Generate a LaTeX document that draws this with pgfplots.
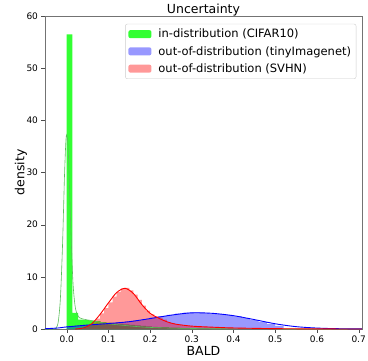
\documentclass[border=0pt]{standalone}
\usepackage{pgfplots}
\pgfplotsset{compat=1.18}
\usepackage{fontspec}
\setmainfont{DejaVu Sans}
\definecolor{lime}{RGB}{0,255,0}
\definecolor{kdegreen}{RGB}{90,190,90}
\begin{document}
\begin{tikzpicture}
\begin{axis}[
  scale only axis, width=317pt, height=313pt,
  xmin=-0.052, xmax=0.708, ymin=0, ymax=60,
  xtick={0,0.1,0.2,0.3,0.4,0.5,0.6,0.7},
  xticklabels={0.0,0.1,0.2,0.3,0.4,0.5,0.6,0.7},
  ytick={0,10,20,30,40,50,60},
  tick align=outside, major tick length=3.5pt,
  tick pos=left,
  ticklabel style={font=\fontsize{9}{10}\selectfont},
  /pgf/number format/assume math mode=true,
  axis line style={black!55},
  tick style={black!70},
  title={Uncertainty},
  title style={at={(axis description cs:0.5,1)}, anchor=base, yshift=-3pt, font=\fontsize{12.5}{14}\selectfont},
  xlabel={BALD}, ylabel={density},
  xlabel style={at={([yshift=-26pt]axis description cs:0.5,0)}, anchor=base, font=\fontsize{12.5}{14}\selectfont},
  ylabel style={at={([xshift=-20.5pt]axis description cs:0,0.5)}, anchor=base, font=\fontsize{12.5}{14}\selectfont},
  legend style={at={(0.982,0.975)}, anchor=north east, font=\fontsize{11.5}{13}\selectfont,
    draw=black!20, rounded corners=2pt, fill=white, fill opacity=0.8, text opacity=1,
    row sep=3pt, inner sep=3pt,
    /tikz/every odd column/.append style={column sep=5pt}},
  legend cell align=left,
  legend image code/.code={\fill[#1] (0pt,-4pt) rectangle (23pt,4pt);},
  clip=true,
]
% green histogram
\addplot[const plot, fill=lime, fill opacity=0.8, draw=none] coordinates {
(0,56.5) (0.0136,3.1) (0.0272,1.8) (0.0408,1.7) (0.0544,1.6) (0.068,1.5) (0.0816,1.3)
(0.0952,1.2) (0.1088,1.1) (0.1224,1.0) (0.136,0.9) (0.15,0.8) (0.163,0.7) (0.177,0.6)
(0.19,0.5) (0.204,0.4) (0.218,0.35) (0.245,0.25) (0.272,0.15) (0.3,0.1) (0.34,0.05) (0.4,0.05)
} \closedcycle;
\addlegendentry{in-distribution (CIFAR10)}
% blue histogram
\addplot[const plot, fill=blue, fill opacity=0.4, draw=none] coordinates {
(0,0.55) (0.02,0.65) (0.04,0.8) (0.06,0.9) (0.08,1.0) (0.10,1.15) (0.12,1.3) (0.14,1.45)
(0.16,1.65) (0.18,1.9) (0.20,2.2) (0.22,2.45) (0.24,2.7) (0.26,2.95) (0.28,3.15) (0.30,3.2)
(0.32,3.1) (0.34,2.95) (0.36,2.85) (0.38,2.65) (0.40,2.4) (0.42,2.1) (0.44,1.7) (0.46,1.3)
(0.48,0.95) (0.50,0.6) (0.52,0.6)
} \closedcycle;
\addlegendentry{out-of-distribution (tinyImagenet)}
% red histogram
\addplot[const plot, fill=red, fill opacity=0.4, draw=none] coordinates {
(0.04,0.3) (0.05,0.6) (0.06,1.2) (0.07,2.0) (0.08,3.0) (0.09,4.0) (0.10,5.1) (0.11,6.2)
(0.12,7.1) (0.13,7.8) (0.14,7.9) (0.15,7.4) (0.16,6.6) (0.17,5.6) (0.18,4.5) (0.19,3.5)
(0.20,2.8) (0.21,2.4) (0.22,2.2) (0.23,1.8) (0.24,1.3) (0.25,1.1) (0.26,0.9) (0.27,0.8)
(0.28,0.7) (0.29,0.6) (0.30,0.5) (0.32,0.4) (0.34,0.35) (0.36,0.3) (0.38,0.25) (0.40,0.2)
(0.42,0.15) (0.44,0.12) (0.46,0.1) (0.48,0.08) (0.50,0.06) (0.52,0.05) (0.54,0.04) (0.56,0.04)
} \closedcycle;
\addlegendentry{out-of-distribution (SVHN)}
% green kde
\addplot[kdegreen, line width=0.6pt, smooth, forget plot] coordinates {
(-0.052,0) (-0.03,0) (-0.025,0.2) (-0.02,1.5) (-0.015,6) (-0.01,16) (-0.005,30) (-0.001,37)
(0.003,35.5) (0.006,29) (0.01,19) (0.015,9) (0.02,4.5) (0.025,2.8) (0.03,2.2) (0.04,1.9)
(0.06,1.6) (0.08,1.3) (0.1,1.0) (0.15,0.6) (0.2,0.3) (0.3,0.1) (0.4,0.03) (0.5,0.01) (0.708,0)
};
% blue kde
\addplot[blue, line width=0.9pt, smooth, forget plot] coordinates {
(-0.052,0.05) (-0.02,0.2) (0,0.4) (0.05,0.75) (0.1,1.05) (0.15,1.4) (0.2,2.0) (0.25,2.65)
(0.3,3.1) (0.35,3.0) (0.4,2.55) (0.45,1.8) (0.5,1.0) (0.55,0.45) (0.6,0.18) (0.65,0.06) (0.708,0.02)
};
% red kde
\addplot[red, line width=0.9pt, smooth, forget plot] coordinates {
(0.02,0) (0.04,0.2) (0.06,1.0) (0.08,2.8) (0.1,5.0) (0.12,7.0) (0.14,7.8) (0.16,6.8)
(0.18,4.7) (0.2,3.0) (0.22,2.1) (0.24,1.4) (0.26,0.95) (0.3,0.55) (0.35,0.35) (0.4,0.2)
(0.5,0.07) (0.6,0.02) (0.708,0)
};
\coordinate (o) at (rel axis cs:0,0);
\end{axis}
\pgfresetboundingbox
\path (o) ++(-45pt,-31pt) rectangle ++(368pt,360pt);
\end{tikzpicture}
\end{document}
